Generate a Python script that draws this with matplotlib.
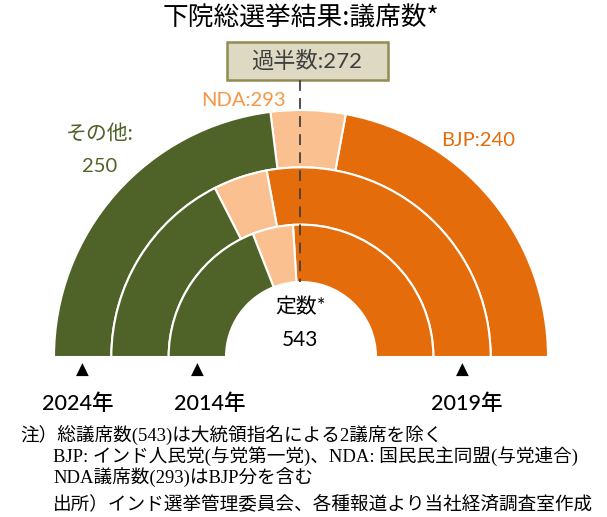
import matplotlib.pyplot as plt
from matplotlib.patches import Wedge, Rectangle

# data: seats by ring (outer -> inner)
years = ['2024年', '2019年', '2014年']
bjp = [240, 303, 282]
nda_other = [53, 50, 54]          # NDA seats excluding BJP
others = [250, 190, 207]
total = 543
majority = 272

GREEN = '#4F6228'
ORANGE = '#E46C0A'
LIGHT = '#FAC090'
NDA_TXT = '#F79646'

W, H = 607, 517
fig = plt.figure(figsize=(W / 100, H / 100), dpi=100)
ax = fig.add_axes([0, 0, 1, 1])
ax.set_xlim(0, W)
ax.set_ylim(0, H)
ax.axis('off')

def Y(y):
    return H - y

cx, cy = 301, Y(357)
R_out, r_hole = 247, 75
ring_w = (R_out - r_hole) / len(years)

for i in range(len(years)):
    r = R_out - i * ring_w
    a1 = 180 * bjp[i] / total
    a2 = 180 * (bjp[i] + nda_other[i]) / total
    for t1, t2, c in [(0, a1, ORANGE), (a1, a2, LIGHT), (a2, 180, GREEN)]:
        ax.add_patch(Wedge((cx, cy), r, t1, t2, width=ring_w, facecolor=c,
                           edgecolor='white', linewidth=1.5))

cjk = ['Noto Sans CJK JP']
lat = ['Lato', 'Noto Sans CJK JP']

# title
ax.text(301, Y(19), '下院総選挙結果:議席数*', ha='center', va='center',
        fontsize=18.5, family=cjk)

# majority box and dashed line
ax.add_patch(Rectangle((227, Y(80)), 161, 38, facecolor='#DDD9C3',
                       edgecolor='#948A54', linewidth=1.8, zorder=3))
ax.text(307, Y(61), '過半数:' + str(majority), ha='center', va='center',
        fontsize=16, family=lat, color='#3F3F3F', zorder=4)
ax.plot([300, 300], [Y(80), cy + r_hole], ls=(0, (6, 4)), color='#404040',
        lw=1.3, zorder=5)

# series labels
ax.text(243, Y(100), f'NDA:{bjp[0] + nda_other[0]}', ha='center', va='center',
        fontsize=14.5, family=lat, color=NDA_TXT)
ax.text(478, Y(140), f'BJP:{bjp[0]}', ha='center', va='center',
        fontsize=14.5, family=lat, color=ORANGE)
ax.text(100, Y(134), 'その他:', ha='center', va='center',
        fontsize=15, family=lat, color=GREEN)
ax.text(100, Y(166), str(others[0]), ha='center', va='center',
        fontsize=14.5, family=lat, color=GREEN)

# center
ax.text(301, Y(307), '定数*', ha='center', va='center', fontsize=15, family=lat)
ax.text(300, Y(340), str(total), ha='center', va='center', fontsize=15, family=lat)

# year markers: outer ring left, inner ring left, middle ring right
marks = [(cx - (R_out - 0.5 * ring_w), -5, years[0]),
         (cx - (R_out - 2.5 * ring_w), 12, years[2]),
         (cx + (R_out - 1.5 * ring_w), 5, years[1])]
for x, dx, lab in marks:
    ax.text(x, Y(370), '▲', ha='center', va='center', fontsize=12, family=['DejaVu Sans'])
    ax.text(x + dx, Y(404), lab, ha='center', va='center', fontsize=15.5,
            family=lat, fontweight='medium')

# notes
note = ['Liberation Serif', 'Noto Sans CJK JP']
fs = 13.4
ax.text(20, Y(435), '注）総議席数(543)は大統領指名による2議席を除く',
        ha='left', va='center', fontsize=fs, family=note)
ax.text(53, Y(456), 'BJP: インド人民党(与党第一党)、NDA: 国民民主同盟(与党連合)',
        ha='left', va='center', fontsize=fs, family=note)
ax.text(53, Y(477), 'NDA議席数(293)はBJP分を含む',
        ha='left', va='center', fontsize=fs, family=note)
ax.text(53, Y(504), '出所）インド選挙管理委員会、各種報道より当社経済調査室作成',
        ha='left', va='center', fontsize=fs, family=note)

fig.savefig('out.png', dpi=100)
